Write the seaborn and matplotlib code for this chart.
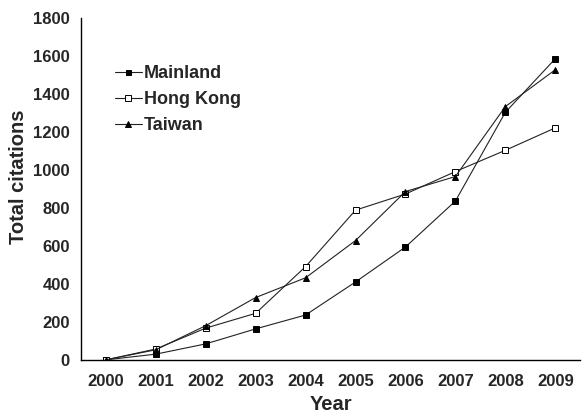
import pandas as pd
import numpy as np
import matplotlib
matplotlib.use("Agg")
import matplotlib.pyplot as plt
import seaborn as sns

years = [2000, 2001, 2002, 2003, 2004, 2005, 2006, 2007, 2008, 2009]
mainland = [0, 30, 84, 163, 236, 410, 594, 836, 1303, 1585]
hong_kong = [0, 57, 167, 245, 491, 788, 873, 991, 1103, 1221]
taiwan = [0, 53, 180, 328, 432, 628, 886, 965, 1333, 1527]

df = pd.DataFrame({
    "pos": list(range(len(years))) * 3,
    "value": mainland + hong_kong + taiwan,
    "region": ["Mainland"] * 10 + ["Hong Kong"] * 10 + ["Taiwan"] * 10,
})

sns.set_style("white")
plt.rcParams["font.family"] = ["Liberation Sans", "DejaVu Sans"]
plt.rcParams["font.weight"] = "bold"

fig = plt.figure(figsize=(5.82, 4.16), dpi=100)
ax = fig.add_axes([0.139, 0.135, 0.858, 0.822])

styles = {
    "Mainland": dict(marker="s", mfc="black", ms=4),
    "Hong Kong": dict(marker="s", mfc="white", ms=4.5),
    "Taiwan": dict(marker="^", mfc="black", ms=4.5),
}
for name in ["Mainland", "Hong Kong", "Taiwan"]:
    sub = df[df["region"] == name]
    sns.lineplot(data=sub, x="pos", y="value", ax=ax, color="#222222", lw=0.8,
                 marker=styles[name]["marker"], markersize=styles[name]["ms"],
                 markerfacecolor=styles[name]["mfc"], markeredgecolor="black",
                 markeredgewidth=0.7, label=name)

ax.set_xlim(-0.5, 9.5)
ax.set_ylim(0, 1800)
ax.set_yticks(range(0, 1801, 200))
ax.set_xticks(range(len(years)))
ax.set_xticklabels([str(y) for y in years])
ax.set_xticks(np.arange(0.5, 9.5, 1), minor=True)
ax.tick_params(axis="x", which="major", length=0, pad=10, labelsize=12)
ax.tick_params(axis="x", which="minor", length=4, width=1, direction="out", color="black")
ax.tick_params(axis="y", length=4, width=1, direction="out", color="black", labelsize=12, pad=4)
for lab in ax.get_xticklabels() + ax.get_yticklabels():
    lab.set_fontweight("bold")

sns.despine(ax=ax)
ax.spines["left"].set_color("black")
ax.spines["bottom"].set_color("black")
ax.spines["left"].set_linewidth(1)
ax.spines["bottom"].set_linewidth(1)

ax.set_xlabel("Year", fontsize=14.5, fontweight="bold")
ax.set_ylabel("Total citations", fontsize=14.5, fontweight="bold")
ax.yaxis.set_label_coords(-0.124, 0.535)
ax.xaxis.set_label_coords(0.5, -0.132)
ax.xaxis.label.set_va("center")
ax.yaxis.label.set_va("center")

leg = ax.legend(loc="upper left", bbox_to_anchor=(0.035, 0.91), frameon=False,
                prop={"size": 13, "weight": "bold"}, handlelength=1.5,
                handletextpad=0.1, labelspacing=0.5, markerscale=0.9)

fig.savefig("out.png", dpi=100)
